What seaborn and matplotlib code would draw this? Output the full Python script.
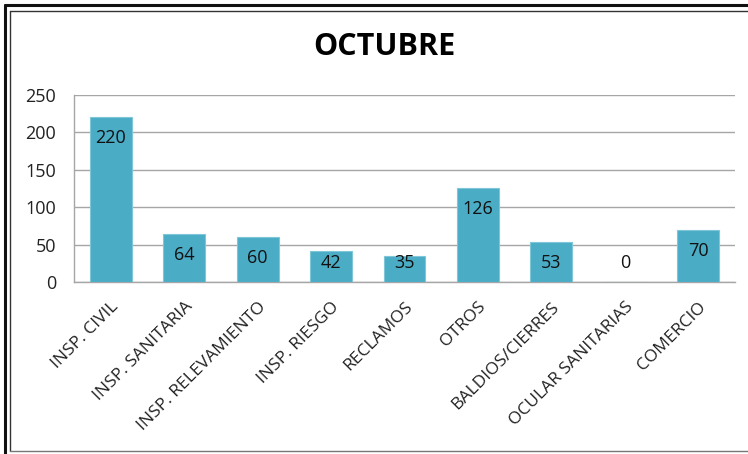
import numpy as np
import pandas as pd
import seaborn as sns
import matplotlib.pyplot as plt
from matplotlib.lines import Line2D

categorias = ['INSP. CIVIL', 'INSP. SANITARIA', 'INSP. RELEVAMIENTO', 'INSP. RIESGO',
              'RECLAMOS', 'OTROS', 'BALDIOS/CIERRES', 'OCULAR SANITARIAS', 'COMERCIO']
valores = [220, 64, 60, 42, 35, 126, 53, 0, 70]
yticks = [0, 50, 100, 150, 200, 250]

df = pd.DataFrame({'cat': categorias, 'val': valores})

sns.set_style('white')
plt.rcParams['font.family'] = ['Open Sans', 'DejaVu Sans']

fig = plt.figure(figsize=(7.48, 4.54), dpi=100)
ax = fig.add_axes([74 / 748, 1 - 282 / 454, (735 - 74) / 748, (282 - 95) / 454])

sns.barplot(data=df, x='cat', y='val', color='#4BACC6', saturation=1, width=0.57,
            edgecolor='#7fc6d8', linewidth=0.8, ax=ax, zorder=3)

ax.set_ylim(0, 250)
ax.set_xlim(-0.5, len(categorias) - 0.5)
ax.set_yticks(yticks)
ax.set_yticklabels([str(t) for t in yticks], fontsize=13, color='#222222')
ax.yaxis.grid(True, color='#a6a6a6', linewidth=1)
ax.set_axisbelow(True)
ax.tick_params(axis='y', length=0, pad=13)
ax.set_xlabel('')
ax.set_ylabel('')
ax.set_xticks(range(len(categorias)))
ax.set_xticklabels(categorias, rotation=45, ha='right', rotation_mode='anchor',
                   fontsize=12.5, color='#222222')
ax.tick_params(axis='x', length=0, pad=12)
for s in ['top', 'right']:
    ax.spines[s].set_visible(False)
for s in ['left', 'bottom']:
    ax.spines[s].set_color('#a6a6a6')
    ax.spines[s].set_linewidth(1)

# etiquetas de datos: dentro del extremo, pero sin bajar del eje
for i, v in enumerate(valores):
    y_lab = max(v - 28, 25)
    ax.text(i, y_lab, str(v), ha='center', va='center', fontsize=13,
            color='#111111', zorder=4)

fig.text(384 / 748, 1 - 47 / 454, 'OCTUBRE', ha='center', va='center',
         fontsize=22, fontweight='bold', color='#000000')

# marco exterior
W, H = 748, 454
def px(x, y):
    return x / W, 1 - y / H
for (x0, y0, x1, y1, lw, c) in [
        (5, 5, 748, 5, 2.2, '#111111'),
        (5, 5, 5, 454, 2.2, '#111111'),
        (10, 11, 748, 11, 1.0, '#333333'),
        (10, 11, 10, 451, 1.0, '#333333'),
        (10, 451, 748, 451, 1.0, '#777777')]:
    a, b = px(x0, y0)
    c2, d = px(x1, y1)
    fig.add_artist(Line2D([a, c2], [b, d], color=c, linewidth=lw))

fig.savefig('out.png', dpi=100)
